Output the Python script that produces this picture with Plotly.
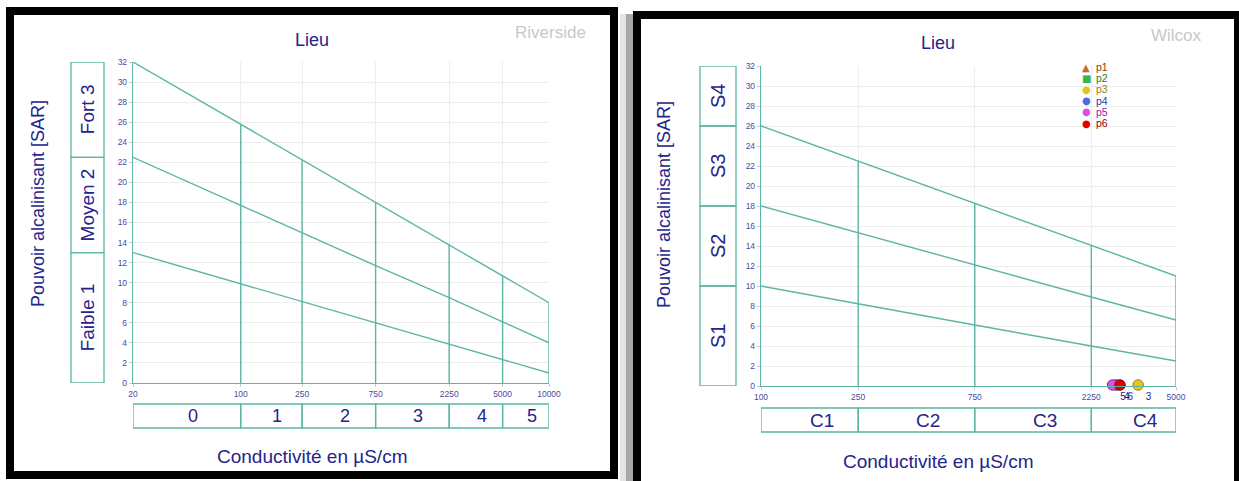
import math
import plotly.graph_objects as go

# ---------------- data ----------------
# Riverside diagram (left)
riv_cond = [20, 100, 250, 750, 2250, 5000, 10000]
riv_tick_text = ["20", "100", "250", "750", "2250", "5000", "10000"]
riv_upper = [32, 25.8, 22.2, 18.0, 13.8, 10.7, 8]
riv_middle = [22.5, 17.7, 15.0, 11.7, 8.5, 6.1, 4]
riv_lower = [13, 9.9, 8.1, 6.0, 3.9, 2.3, 1]
riv_cond_classes = ["0", "1", "2", "3", "4", "5"]
riv_sar_classes = ["Faible 1", "Moyen 2", "Fort 3"]
riv_sar_bounds = [0, 13, 22.5, 32]

# Wilcox diagram (right)
wil_cond = [100, 250, 750, 2250, 5000]
wil_tick_text = ["100", "250", "750", "2250", "5000"]
wil_upper = [26, 22.5, 18.3, 14.1, 11]
wil_middle = [18, 15.3, 12.1, 8.9, 6.6]
wil_lower = [10, 8.2, 6.1, 4.0, 2.5]
wil_cond_classes = ["C1", "C2", "C3", "C4"]
wil_sar_classes = ["S1", "S2", "S3", "S4"]
wil_sar_bounds = [0, 10, 18, 26, 32]

# samples
sample_names = ["p1", "p2", "p3", "p4", "p5", "p6"]
sample_labels = ["1", "2", "3", "4", "5", "6"]
sample_cond = [None, None, 3500, 2850, 2750, 2950]
sample_sar = [None, None, 0.1, 0.1, 0.1, 0.1]
sample_symbols = ["triangle-up", "square", "circle", "circle", "circle", "circle"]
sample_colors = ["#d0682a", "#3cb44b", "#e6c61e", "#4a6ee0", "#e050e0", "#e00000"]
sample_edges = ["#8a3a10", "#1f7a2c", "#9a8010", "#2a3ea0", "#9a209a", "#900000"]
legend_glyphs = ["▲", "■", "●", "●", "●", "●"]

# ---------------- style ----------------
W, H = 1239, 481
TEAL = "#5cb5a5"
NAVY = "#24248c"
TICKC = "#4a4aa2"
GRID = "#ededed"
FONT = "Liberation Sans, Arial, sans-serif"


def px(x):
    return x / W


def py(y):
    return 1 - y / H


fig = go.Figure()


def add_diagram(xa, ya, cond, upper, middle, lower):
    for series in (upper, middle, lower):
        fig.add_trace(go.Scatter(x=cond, y=series, mode="lines", xaxis=xa, yaxis=ya,
                                 line=dict(color=TEAL, width=1.4), showlegend=False,
                                 hoverinfo="skip"))
    vx, vy = [], []
    for c, u in zip(cond[1:], upper[1:]):
        vx += [c, c, None]
        vy += [0, u, None]
    fig.add_trace(go.Scatter(x=vx, y=vy, mode="lines", xaxis=xa, yaxis=ya,
                             line=dict(color=TEAL, width=1.4), showlegend=False,
                             hoverinfo="skip"))


add_diagram("x", "y", riv_cond, riv_upper, riv_middle, riv_lower)
add_diagram("x2", "y2", wil_cond, wil_upper, wil_middle, wil_lower)

for i, name in enumerate(sample_names):
    fig.add_trace(go.Scatter(
        x=[sample_cond[i]], y=[sample_sar[i]], xaxis="x2", yaxis="y2",
        mode="markers+text", text=[sample_labels[i]], textposition="bottom right",
        textfont=dict(color=NAVY, size=10, family=FONT),
        marker=dict(symbol=sample_symbols[i], size=10.5, color=sample_colors[i],
                    line=dict(color=sample_edges[i], width=1)),
        cliponaxis=False, showlegend=False, name=name))


def axis_x(domain, cond, text, anchor):
    return dict(type="log", domain=domain,
                range=[math.log10(cond[0]), math.log10(cond[-1])],
                tickmode="array", tickvals=cond, ticktext=text,
                tickfont=dict(size=8.5, color=TICKC, family=FONT),
                showgrid=True, gridcolor=GRID, gridwidth=1, zeroline=False,
                showline=True, linecolor=TEAL, linewidth=1.4,
                ticks="outside", ticklen=3, tickcolor="#cccccc",
                anchor=anchor, fixedrange=True, automargin=False)


def axis_y(domain, anchor):
    return dict(domain=domain, range=[0, 32], tick0=0, dtick=2,
                tickfont=dict(size=8.5, color=TICKC, family=FONT),
                showgrid=True, gridcolor=GRID, gridwidth=1, zeroline=False,
                showline=True, linecolor=TEAL, linewidth=1.4,
                ticks="outside", ticklen=3, tickcolor="#cccccc",
                anchor=anchor, fixedrange=True, automargin=False)


shapes = []
annotations = []


def ann(**kw):
    d = dict(showarrow=False, xanchor="center", yanchor="middle")
    d.update(kw)
    annotations.append(d)


# frames
shapes.append(dict(type="rect", xref="paper", yref="paper",
                   x0=px(620), x1=px(626), y0=py(14), y1=py(481),
                   fillcolor="#e4e4e4", line=dict(width=0), layer="below"))
shapes.append(dict(type="rect", xref="paper", yref="paper",
                   x0=px(626), x1=px(633), y0=py(14), y1=py(481),
                   fillcolor="#a8a8a8", line=dict(width=0), layer="below"))
shapes.append(dict(type="rect", xref="paper", yref="paper",
                   x0=px(10), x1=px(614), y0=py(11), y1=py(475),
                   line=dict(color="black", width=8)))
shapes.append(dict(type="rect", xref="paper", yref="paper",
                   x0=px(637), x1=px(1238), y0=py(15), y1=py(485),
                   line=dict(color="black", width=8)))


def class_boxes(xa, ya, cond, labels, y_top, y_bot, side_x0, side_x1,
                sar_bounds, sar_labels, side_size, bottom_size, xshift):
    for i, lab in enumerate(labels):
        a, b = cond[i], cond[i + 1]
        shapes.append(dict(type="rect", xref=xa, yref="paper", x0=a, x1=b,
                           y0=py(y_bot), y1=py(y_top),
                           line=dict(color=TEAL, width=1.3)))
        ann(xref=xa, yref="paper", x=(math.log10(a) + math.log10(b)) / 2,
            y=py((y_top + y_bot) / 2), text=lab, xshift=xshift,
            font=dict(size=bottom_size, color=NAVY, family=FONT))
    for i, lab in enumerate(sar_labels):
        a, b = sar_bounds[i], sar_bounds[i + 1]
        shapes.append(dict(type="rect", xref="paper", yref=ya,
                           x0=px(side_x0), x1=px(side_x1), y0=a, y1=b,
                           line=dict(color=TEAL, width=1.3)))
        ann(xref="paper", yref=ya, x=px((side_x0 + side_x1) / 2),
            y=(a + b) / 2, text=lab, textangle=-90,
            font=dict(size=side_size, color=NAVY, family=FONT))


class_boxes("x", "y", riv_cond, riv_cond_classes, 404, 428, 71, 104,
            riv_sar_bounds, riv_sar_classes, 19, 18, 6)
class_boxes("x2", "y2", wil_cond, wil_cond_classes, 408, 432, 700, 736,
            wil_sar_bounds, wil_sar_classes, 20, 19, 12)

# titles
for cx, ty, xt_y, ylab_x, name, name_x, name_y, mid_y in [
        (312, 40, 456, 38, "Riverside", 550, 32, 204),
        (938, 43, 461, 664, "Wilcox", 1176, 35, 205)]:
    ann(xref="paper", yref="paper", x=px(cx), y=py(ty), text="Lieu",
        font=dict(size=18, color=NAVY, family=FONT))
    ann(xref="paper", yref="paper", x=px(name_x), y=py(name_y), text=name,
        font=dict(size=17, color="#c8c8c8", family=FONT))
    ann(xref="paper", yref="paper", x=px(cx), y=py(xt_y), text="Conductivité en µS/cm",
        font=dict(size=19, color=NAVY, family=FONT))
    ann(xref="paper", yref="paper", x=px(ylab_x), y=py(mid_y),
        text="Pouvoir alcalinisant [SAR]", textangle=-90,
        font=dict(size=18, color=NAVY, family=FONT))

# compact legend (right panel)
for i, name in enumerate(sample_names):
    yy = 67 + i * 11.2
    ann(xref="paper", yref="paper", x=px(1086), y=py(yy), text=legend_glyphs[i],
        font=dict(size=10, color=sample_colors[i], family="DejaVu Sans"))
    ann(xref="paper", yref="paper", x=px(1094), y=py(yy), xanchor="left", text=name,
        font=dict(size=10.5, color=sample_edges[i], family=FONT))

fig.update_layout(
    width=W, height=H, margin=dict(l=0, r=0, t=0, b=0, pad=0, autoexpand=False),
    paper_bgcolor="white", plot_bgcolor="white",
    font=dict(family=FONT),
    showlegend=False,
    xaxis=axis_x([px(133), px(549)], riv_cond, riv_tick_text, "y"),
    yaxis=axis_y([py(383), py(62)], "x"),
    xaxis2=axis_x([px(761), px(1176)], wil_cond, wil_tick_text, "y2"),
    yaxis2=axis_y([py(386), py(66)], "x2"),
    shapes=shapes, annotations=annotations,
)

fig.write_html("out.html", config={"displayModeBar": False},
               post_script="document.body.style.margin='0';document.body.style.overflow='hidden';")
